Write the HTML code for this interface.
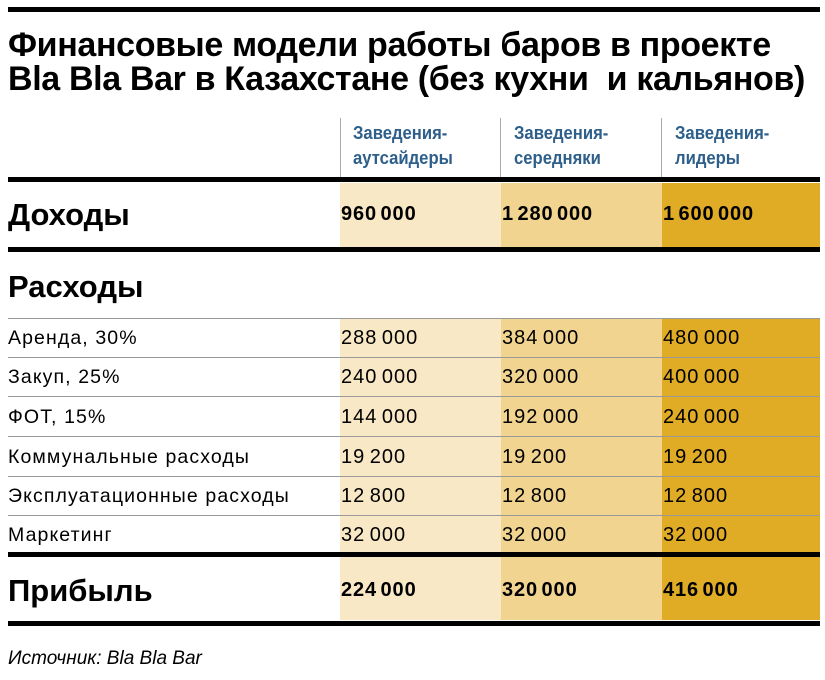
<!DOCTYPE html>
<html><head><meta charset="utf-8"><style>
body{margin:0;width:825px;height:680px;background:#fff;position:relative;overflow:hidden;font-family:"Liberation Sans",sans-serif;color:#000}
div{position:absolute}
.title{left:8px;top:28px;font-size:34px;font-weight:bold;line-height:34px;letter-spacing:-0.35px;white-space:nowrap}
.thick{background:#000;left:8px;width:812px;height:5px}
.thin{background:#999;left:8px;width:812px;height:1px}
.vl{background:#aaa;width:1px;top:118px;height:62px}
.hd{color:#2e5f8a;font-weight:bold;font-size:18.5px;line-height:25px;transform:scaleX(0.9);transform-origin:left top;white-space:nowrap}
.fill{top:183px;width:161px}
.lbl{left:8px;font-size:19.5px;letter-spacing:1.1px;white-space:nowrap}
.big{left:8px;font-size:31px;font-weight:bold;white-space:nowrap}
.num{font-size:20px;white-space:nowrap;letter-spacing:1px;word-spacing:-2px}
.bnum{font-size:20px;font-weight:bold;white-space:nowrap;letter-spacing:0.9px;word-spacing:-3px}
</style></head><body>
<div class="thick" style="top:7px;height:5px"></div>
<div class="title">Финансовые модели работы баров в проекте<br>Bla Bla Bar в Казахстане (без кухни&nbsp; и кальянов)</div>

<div class="fill" style="left:340px;height:64px;background:#f8e8c6"></div>
<div class="fill" style="left:501px;height:64px;background:#f0d490"></div>
<div class="fill" style="left:662px;width:158px;height:64px;background:#e0ab25"></div>
<div class="fill" style="left:340px;top:318px;height:302px;background:#f8e8c6"></div>
<div class="fill" style="left:501px;top:318px;height:302px;background:#f0d490"></div>
<div class="fill" style="left:662px;width:158px;top:318px;height:302px;background:#e0ab25"></div>

<div class="vl" style="left:340px"></div>
<div class="vl" style="left:500px"></div>
<div class="vl" style="left:661px"></div>
<div class="hd" style="left:353px;top:120px">Заведения-<br>аутсайдеры</div>
<div class="hd" style="left:514px;top:120px">Заведения-<br>середняки</div>
<div class="hd" style="left:675px;top:120px">Заведения-<br>лидеры</div>

<div class="thick" style="top:177px"></div>
<div class="big" style="top:197px">Доходы</div>
<div class="bnum" style="left:341px;top:203px">960 000</div>
<div class="bnum" style="left:502px;top:203px">1 280 000</div>
<div class="bnum" style="left:663px;top:203px">1 600 000</div>
<div class="thick" style="top:247px"></div>

<div class="big" style="top:269px">Расходы</div>
<div class="thin" style="top:318px"></div>

<div class="lbl" style="top:327px">Аренда, 30%</div>
<div class="num" style="left:341px;top:327px">288 000</div>
<div class="num" style="left:502px;top:327px">384 000</div>
<div class="num" style="left:663px;top:327px">480 000</div>
<div class="thin" style="top:357px"></div>

<div class="lbl" style="top:366px">Закуп, 25%</div>
<div class="num" style="left:341px;top:366px">240 000</div>
<div class="num" style="left:502px;top:366px">320 000</div>
<div class="num" style="left:663px;top:366px">400 000</div>
<div class="thin" style="top:396px"></div>

<div class="lbl" style="top:406px">ФОТ, 15%</div>
<div class="num" style="left:341px;top:406px">144 000</div>
<div class="num" style="left:502px;top:406px">192 000</div>
<div class="num" style="left:663px;top:406px">240 000</div>
<div class="thin" style="top:436px"></div>

<div class="lbl" style="top:446px">Коммунальные расходы</div>
<div class="num" style="left:341px;top:446px">19 200</div>
<div class="num" style="left:502px;top:446px">19 200</div>
<div class="num" style="left:663px;top:446px">19 200</div>
<div class="thin" style="top:476px"></div>

<div class="lbl" style="top:485px">Эксплуатационные расходы</div>
<div class="num" style="left:341px;top:485px">12 800</div>
<div class="num" style="left:502px;top:485px">12 800</div>
<div class="num" style="left:663px;top:485px">12 800</div>
<div class="thin" style="top:515px"></div>

<div class="lbl" style="top:524px">Маркетинг</div>
<div class="num" style="left:341px;top:524px">32 000</div>
<div class="num" style="left:502px;top:524px">32 000</div>
<div class="num" style="left:663px;top:524px">32 000</div>
<div class="thick" style="top:552px"></div>

<div class="big" style="top:573px">Прибыль</div>
<div class="bnum" style="left:341px;top:579px">224 000</div>
<div class="bnum" style="left:502px;top:579px">320 000</div>
<div class="bnum" style="left:663px;top:579px">416 000</div>
<div class="thick" style="top:621px"></div>

<div style="left:8px;top:648px;font-size:19px;font-style:italic;white-space:nowrap">Источник: Bla Bla Bar</div>
</body></html>
